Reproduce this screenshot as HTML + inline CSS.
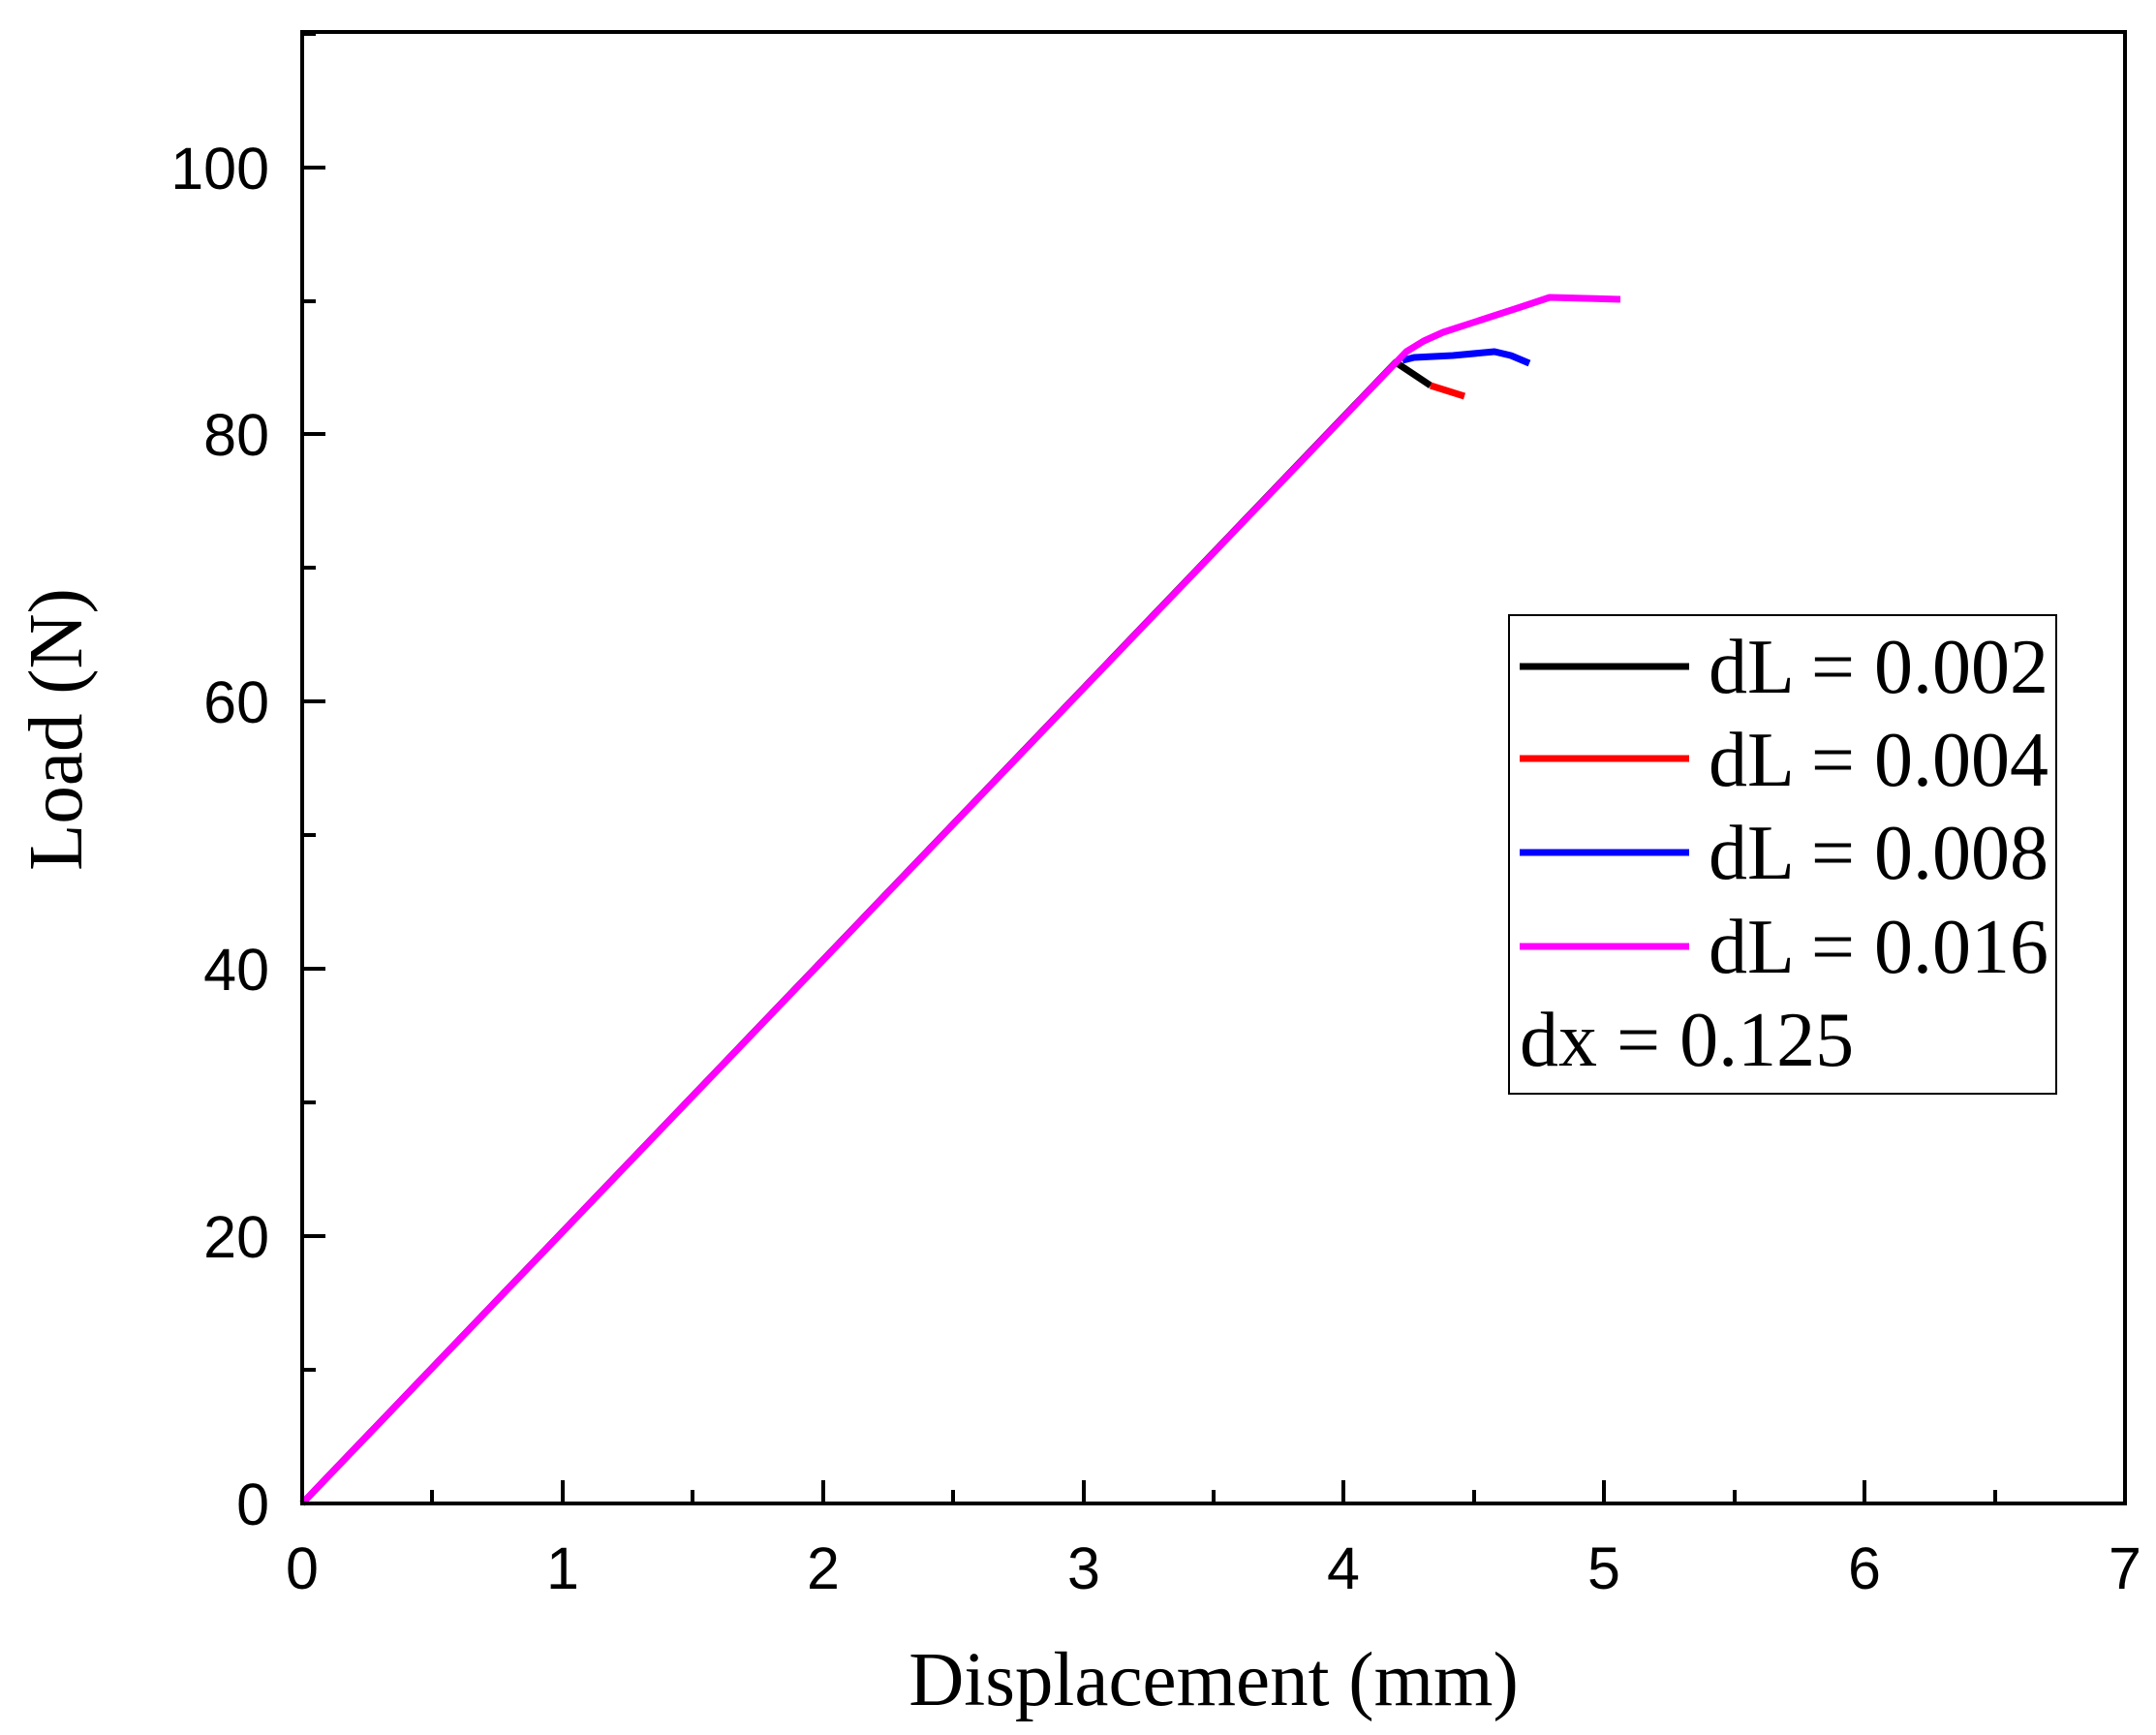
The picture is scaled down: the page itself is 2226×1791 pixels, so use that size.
<!DOCTYPE html>
<html><head><style>body{margin:0;background:#fff}svg{display:block}</style></head><body>
<svg width="2226" height="1791" xmlns="http://www.w3.org/2000/svg">
<rect width="2226" height="1791" fill="#fff"/>
<g fill="none" stroke-linejoin="round" stroke-linecap="butt">
<polyline stroke="#000" stroke-width="7" points="312,1552 1441,374 1477,398"/>
<polyline stroke="#f00" stroke-width="7" points="1477,398 1512,409"/>
<polyline stroke="#00f" stroke-width="7" points="1448,372 1460,369 1500,367 1543,363 1560,367 1579,375"/>
<polyline stroke="#f0f" stroke-width="7" points="312,1552 1452,363 1470,352 1490,343 1530,330 1570,317 1600,307 1673,309"/>
</g>
<g stroke="#000" stroke-width="4" fill="none">
<rect x="312" y="33" width="1882" height="1519"/>
<path d="M581,1552v-24M850,1552v-24M1119,1552v-24M1387,1552v-24M1656,1552v-24M1925,1552v-24
M446,1552v-14M715,1552v-14M984,1552v-14M1253,1552v-14M1522,1552v-14M1791,1552v-14M2060,1552v-14
M312,1276h24M312,1000h24M312,724h24M312,448h24M312,173h24
M312,1414h14M312,1138h14M312,862h14M312,586h14M312,311h14M312,35h14"/>
</g>
<g font-family="Liberation Sans, sans-serif" font-size="61" fill="#000">
<g text-anchor="middle">
<text x="312" y="1640">0</text><text x="581" y="1640">1</text><text x="850" y="1640">2</text><text x="1119" y="1640">3</text><text x="1387" y="1640">4</text><text x="1656" y="1640">5</text><text x="1925" y="1640">6</text><text x="2194" y="1640">7</text>
</g>
<g text-anchor="end">
<text x="278" y="1574">0</text><text x="278" y="1298">20</text><text x="278" y="1022">40</text><text x="278" y="746">60</text><text x="278" y="470">80</text><text x="278" y="195">100</text>
</g>
</g>
<g font-family="Liberation Serif, serif" fill="#000">
<text x="1253" y="1760" font-size="79" text-anchor="middle">Displacement (mm)</text>
<text transform="translate(84,753) rotate(-90)" font-size="79" text-anchor="middle">Load (N)</text>
<rect x="1558" y="635" width="565" height="494" fill="none" stroke="#000" stroke-width="2"/>
<line x1="1569" y1="688" x2="1744" y2="688" stroke="#000" stroke-width="7"/>
<line x1="1569" y1="783" x2="1744" y2="783" stroke="#f00" stroke-width="7"/>
<line x1="1569" y1="880" x2="1744" y2="880" stroke="#00f" stroke-width="7"/>
<line x1="1569" y1="977" x2="1744" y2="977" stroke="#f0f" stroke-width="7"/>
<g font-size="80">
<text x="1764" y="715">dL = 0.002</text>
<text x="1764" y="811">dL = 0.004</text>
<text x="1764" y="907">dL = 0.008</text>
<text x="1764" y="1004">dL = 0.016</text>
<text x="1569" y="1100">dx = 0.125</text>
</g>
</g>
</svg>
</body></html>
